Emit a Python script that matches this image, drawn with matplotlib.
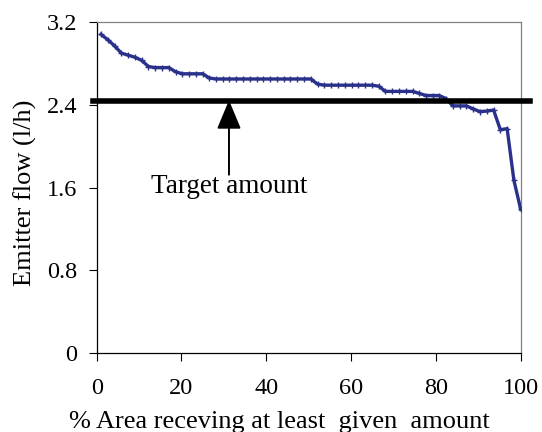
import matplotlib
matplotlib.use("Agg")
import matplotlib.pyplot as plt

plt.rcParams['font.family'] = ['Liberation Serif', 'DejaVu Serif']

# percent of area receiving at least the given flow
area_pct = [1.0, 2.6, 4.2, 5.8, 7.4, 9.0, 10.6, 12.2, 13.8, 15.4,
            17.0, 18.6, 20.2, 21.8, 23.4, 25.0, 26.5, 28.1, 29.7, 31.3,
            32.9, 34.5, 36.1, 37.7, 39.3, 40.9, 42.5, 44.1, 45.7, 47.3,
            48.9, 50.5, 52.1, 53.7, 55.3, 56.9, 58.5, 60.1, 61.7, 63.3,
            64.9, 66.5, 68.1, 69.7, 71.3, 72.9, 74.5, 76.1, 77.7, 79.3,
            80.8, 82.4, 84.0, 85.6, 87.2, 88.8, 90.4, 92.0, 93.6, 95.2,
            96.8, 98.4, 100.0]
# emitter flow (l/h)
flow = [3.08, 3.03, 2.97, 2.90, 2.88, 2.86, 2.83, 2.77, 2.76, 2.76,
        2.76, 2.72, 2.70, 2.70, 2.70, 2.70, 2.66, 2.65, 2.65, 2.65,
        2.65, 2.65, 2.65, 2.65, 2.65, 2.65, 2.65, 2.65, 2.65, 2.65,
        2.65, 2.65, 2.60, 2.59, 2.59, 2.59, 2.59, 2.59, 2.59, 2.59,
        2.59, 2.58, 2.53, 2.53, 2.53, 2.53, 2.53, 2.51, 2.49, 2.49,
        2.49, 2.46, 2.39, 2.39, 2.39, 2.36, 2.335, 2.34, 2.35, 2.16,
        2.17, 1.67, 1.39]
target_flow = 2.44

fig = plt.figure(figsize=(5.42, 4.32), dpi=100)
ax = fig.add_axes([0.1784, 0.1822, 0.9607 - 0.1784, 0.949 - 0.1822])

ax.plot(area_pct, flow, color="#29318a", linewidth=2.4, marker="+",
        markersize=4, markeredgewidth=1.0, zorder=3)

# target line, runs a bit past the axes
ax.plot([-0.9, 102.2], [target_flow, target_flow], color="black",
        linewidth=4.0, clip_on=False, zorder=4)

ax.annotate("", xy=(31.2, target_flow + 0.005), xytext=(31.2, 1.725),
            arrowprops=dict(arrowstyle="-|>,head_length=1.8,head_width=0.75",
                            color="black", lw=1.4, shrinkA=0, shrinkB=0))
ax.text(31.2, 1.615, "Target amount", ha="center", va="center", fontsize=19.5)

ax.set_xlim(0, 100)
ax.set_ylim(0, 3.2)
ax.set_xticks([0, 20, 40, 60, 80, 100])
ax.set_yticks([0, 0.8, 1.6, 2.4, 3.2])
ax.set_yticklabels(["0", "0.8", "1.6", "2.4", "3.2"])
ax.tick_params(axis="x", direction="out", length=5.8, width=0.8, pad=12, labelsize=17.5)
ax.tick_params(axis="y", direction="out", length=5.8, width=0.8, pad=8, labelsize=17.5)

ax.spines["top"].set_color("#808080")
ax.spines["right"].set_color("#808080")
for s in ax.spines.values():
    s.set_linewidth(0.9)

fig.text(25 / 542, 1 - 193 / 432, "Emitter flow (l/h)", rotation=90,
         ha="center", va="center", fontsize=19)
fig.text(279 / 542, 1 - 422 / 432, "% Area receving at least  given  amount",
         ha="center", va="center", fontsize=19)

fig.savefig("out.png", dpi=100)
